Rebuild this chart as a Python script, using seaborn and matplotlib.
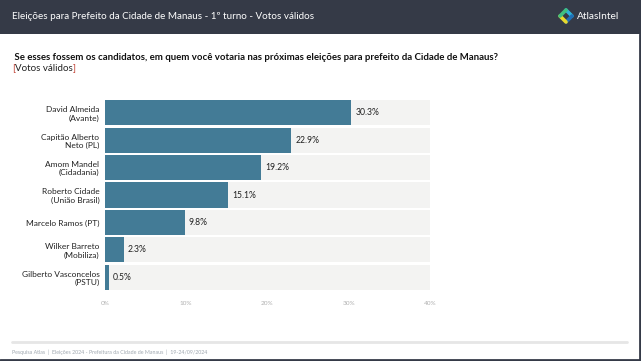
import matplotlib
matplotlib.use('Agg')
import matplotlib.pyplot as plt
import matplotlib.patches as mpatches
import matplotlib.lines as mlines
import seaborn as sns
import pandas as pd

# data
candidates = ['David Almeida\n(Avante)', 'Capitão Alberto\nNeto (PL)', 'Amom Mandel\n(Cidadania)',
              'Roberto Cidade\n(União Brasil)', 'Marcelo Ramos (PT)', 'Wilker Barreto\n(Mobiliza)',
              'Gilberto Vasconcelos\n(PSTU)']
votes = [30.3, 22.9, 19.2, 15.1, 9.8, 2.3, 0.5]
x_ticks = [0, 10, 20, 30, 40]

title = 'Eleições para Prefeito da Cidade de Manaus - 1º turno - Votos válidos'
question = ' Se esses fossem os candidatos, em quem você votaria nas próximas eleições para prefeito da Cidade de Manaus?'
footer = 'Pesquisa Atlas  |  Eleições 2024 - Prefeitura da Cidade de Manaus  |  19-24/09/2024'

sns.set_style('white')
plt.rcParams['font.family'] = ['Lato', 'DejaVu Sans']

W, H = 641, 361
fig = plt.figure(figsize=(W / 100, H / 100), dpi=100)
fig.patch.set_facecolor('white')

def fx(px):
    return px / W

def fy(py):
    return 1 - py / H

# header bar
fig.add_artist(mpatches.Rectangle((0, fy(34)), 1, 34 / H, transform=fig.transFigure,
                                  facecolor='#353a47', edgecolor='none', zorder=0))
fig.text(fx(12), fy(16.5), title, color='white', fontsize=7.1, va='center', ha='left')

# logo: diamond ring in four colours
cx, cy, r = 566, 16, 6
pts = [(cx, cy - r), (cx + r, cy), (cx, cy + r), (cx - r, cy)]
logo_colors = ['#2db3d9', '#1f6fb5', '#e8d92c', '#3fbf7f']
for i in range(4):
    a, b = pts[i], pts[(i + 1) % 4]
    fig.add_artist(mlines.Line2D([fx(a[0]), fx(b[0])], [fy(a[1]), fy(b[1])], transform=fig.transFigure,
                                 color=logo_colors[i], linewidth=2.6, solid_capstyle='round'))
fig.text(fx(577), fy(16.5), 'AtlasIntel', color='white', fontsize=7.3, va='center', ha='left')

# question text
fig.text(fx(12), fy(57), question, color='#111111', fontsize=6.95, fontweight='bold', va='center', ha='left')
t1 = fig.text(fx(12), fy(68.5), '[', color='#c0392b', fontsize=7.0, va='center', ha='left')
fig.canvas.draw()
bb = t1.get_window_extent()
t2 = fig.text(bb.x1 / W, fy(68.5), 'Votos válidos', color='#222222', fontsize=7.0, va='center', ha='left')
bb = t2.get_window_extent()
fig.text(bb.x1 / W, fy(68.5), ']', color='#c0392b', fontsize=7.0, va='center', ha='left')

# bar chart
ax = fig.add_axes([fx(105), fy(291), fx(430) - fx(105), (291 - 99) / H])
df = pd.DataFrame({'candidate': candidates, 'votes': votes})
df['full'] = x_ticks[-1]
sns.barplot(data=df, y='candidate', x='full', color='#f3f3f2', width=0.92, ax=ax,
            edgecolor='none', saturation=1)
sns.barplot(data=df, y='candidate', x='votes', color='#437b96', width=0.92, ax=ax,
            edgecolor='none', saturation=1)
for c in ax.containers[1:]:
    ax.bar_label(c, labels=[f'{v:.1f}%' for v in votes], padding=3, fontsize=6.2, color='#222222')

ax.set_xlim(0, x_ticks[-1])
ax.set_ylim(len(candidates) - 0.5, -0.5)
ax.set_xticks(x_ticks)
ax.set_xticklabels([f'{t}%' for t in x_ticks], fontsize=4.6, color='#b0b0b0')
ax.tick_params(axis='x', length=3, width=0.5, color='#dddddd', pad=4)
ax.tick_params(axis='y', length=0, pad=4, labelsize=6.0, labelcolor='#222222')
for lbl in ax.get_yticklabels():
    lbl.set_horizontalalignment('right')
    lbl.set_multialignment('right')
ax.set_xlabel('')
ax.set_ylabel('')
for s in ax.spines.values():
    s.set_visible(False)

# footer
fig.add_artist(mlines.Line2D([fx(12), fx(627)], [fy(342), fy(342)], transform=fig.transFigure,
                             color='#e6e6e6', linewidth=2))
fig.text(fx(12), fy(352), footer, color='#a0a8b0', fontsize=3.8, va='center', ha='left')

# dark frame on right and bottom edges
fig.add_artist(mlines.Line2D([fx(639.5), fx(639.5)], [0, fy(34)], transform=fig.transFigure,
                             color='#353a47', linewidth=2))
fig.add_artist(mlines.Line2D([0, 1], [fy(360), fy(360)], transform=fig.transFigure,
                             color='#353a47', linewidth=2))

fig.savefig('out.png', dpi=100)
